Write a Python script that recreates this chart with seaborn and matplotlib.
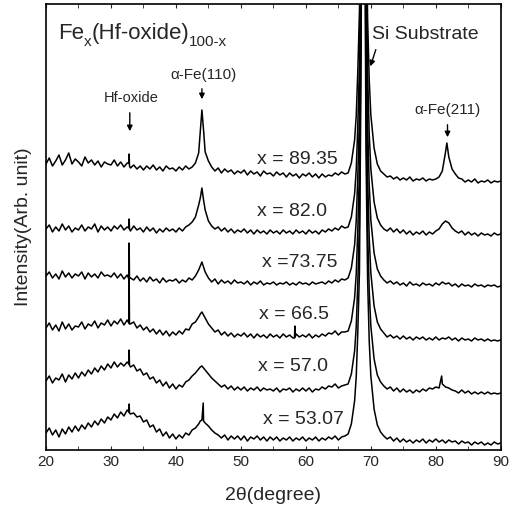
import numpy as np
import pandas as pd
import seaborn as sns
import matplotlib.pyplot as plt

# 2theta grid (0.5 degree steps) shared by all patterns
two_theta = np.linspace(20, 90, 141)

# intensities (arbitrary units, stacked)
s_8935 = [286, 292, 284, 289, 295, 285, 290, 297, 286, 291,
          288, 284, 293, 287, 290, 285, 289, 283, 288, 286,
          285, 290, 284, 288, 283, 287, 282, 285, 281, 284,
          280, 284, 281, 285, 280, 283, 279, 284, 281, 282,
          279, 283, 280, 284, 281, 283, 287, 297, 340, 298,
          289, 283, 279, 282, 277, 281, 278, 280, 276, 279,
          277, 280, 275, 279, 276, 278, 274, 279, 276, 277,
          274, 278, 275, 277, 273, 277, 274, 276, 272, 276,
          274, 277, 273, 276, 272, 276, 273, 275, 274, 277,
          275, 278, 276, 277, 287, 310, 380, 652, 902, 432,
          335, 302, 286, 279, 276, 273, 274, 271, 273, 270,
          272, 270, 273, 269, 271, 270, 272, 269, 271, 270,
          271, 273, 279, 298, 293, 281, 276, 272, 271, 268,
          270, 268, 271, 267, 269, 268, 270, 267, 269, 268,
          269]
s_820 = [221, 225, 218, 223, 219, 226, 220, 224, 218, 222,
         220, 225, 219, 223, 221, 226, 218, 224, 220, 223,
         219, 224, 221, 225, 220, 223, 219, 224, 220, 222,
         218, 223, 219, 222, 217, 221, 218, 222, 219, 221,
         218, 222, 219, 223, 225, 228, 233, 245, 262, 240,
         229, 224, 221, 223, 219, 222, 218, 221, 217, 220,
         218, 221, 217, 220, 216, 220, 217, 219, 216, 220,
         217, 219, 216, 220, 217, 219, 216, 220, 217, 219,
         216, 220, 217, 219, 216, 220, 218, 221, 219, 222,
         220, 224, 222, 223, 233, 256, 326, 598, 848, 378,
         281, 248, 232, 225, 221, 219, 222, 218, 221, 217,
         220, 216, 219, 215, 218, 216, 219, 215, 218, 216,
         219, 221, 226, 229, 227, 222, 219, 217, 219, 215,
         218, 215, 217, 214, 217, 215, 216, 214, 217, 215,
         216]
s_7375 = [174, 178, 172, 176, 171, 179, 173, 177, 172, 176,
          174, 178, 171, 177, 173, 176, 172, 178, 174, 175,
          173, 177, 172, 176, 171, 175, 172, 170, 174, 169,
          172, 168, 173, 169, 171, 167, 172, 168, 170, 169,
          171, 167, 170, 168, 172, 170, 174, 180, 188, 178,
          172, 168, 171, 166, 170, 167, 169, 166, 170, 167,
          168, 166, 169, 165, 168, 166, 169, 165, 167, 166,
          168, 165, 167, 166, 168, 165, 167, 165, 168, 166,
          167, 165, 168, 166, 167, 168, 166, 169, 167, 170,
          168, 171, 170, 172, 182, 205, 275, 547, 797, 327,
          230, 197, 181, 174, 170, 167, 169, 166, 168, 165,
          167, 164, 168, 165, 166, 164, 167, 165, 166, 164,
          167, 165, 168, 166, 167, 164, 166, 163, 166, 164,
          165, 163, 166, 164, 165, 163, 165, 164, 165, 163,
          164]
s_665 = [122, 127, 120, 125, 119, 128, 121, 126, 120, 124,
         123, 128, 121, 126, 124, 129, 122, 127, 125, 130,
         124, 129, 126, 131, 125, 130, 126, 128, 122, 125,
         120, 123, 118, 121, 116, 120, 115, 119, 114, 118,
         115, 119, 116, 121, 120, 126, 128, 133, 138, 132,
         126, 122, 118, 120, 115, 118, 114, 117, 113, 116,
         114, 117, 113, 116, 112, 116, 113, 115, 112, 116,
         113, 115, 112, 116, 113, 115, 112, 116, 113, 115,
         113, 116, 112, 115, 113, 116, 114, 117, 116, 119,
         115, 118, 118, 119, 129, 152, 222, 494, 744, 274,
         177, 144, 128, 121, 117, 113, 115, 112, 114, 111,
         114, 111, 113, 110, 113, 111, 113, 110, 112, 110,
         113, 110, 112, 111, 113, 110, 112, 109, 112, 110,
         111, 109, 112, 110, 111, 109, 111, 109, 110, 109,
         110]
s_570 = [69, 74, 67, 72, 70, 76, 68, 75, 71, 77,
         72, 78, 74, 80, 76, 82, 78, 84, 80, 86,
         82, 88, 83, 87, 84, 88, 83, 85, 79, 81,
         75, 77, 71, 73, 67, 70, 64, 68, 62, 66,
         61, 65, 63, 68, 70, 74, 77, 81, 84, 80,
         76, 72, 69, 66, 63, 65, 61, 64, 60, 63,
         60, 63, 59, 62, 60, 63, 59, 62, 60, 61,
         59, 62, 58, 61, 60, 62, 58, 61, 59, 62,
         59, 62, 58, 61, 60, 63, 61, 64, 63, 66,
         62, 64, 65, 66, 76, 99, 169, 441, 691, 221,
         124, 91, 75, 68, 64, 61, 63, 59, 62, 58,
         61, 58, 60, 57, 60, 58, 61, 59, 62, 61,
         63, 62, 66, 63, 62, 60, 59, 57, 60, 57,
         59, 56, 58, 56, 58, 56, 58, 56, 57, 56,
         57]
s_5307 = [17, 22, 15, 20, 13, 21, 16, 23, 18, 24,
          19, 25, 21, 27, 23, 29, 25, 31, 27, 33,
          30, 36, 32, 38, 34, 40, 36, 37, 33, 34,
          28, 30, 23, 25, 18, 21, 14, 18, 12, 16,
          11, 15, 12, 17, 15, 20, 22, 26, 30, 27,
          24, 20, 17, 15, 12, 15, 10, 14, 11, 14,
          10, 14, 9, 13, 11, 14, 10, 13, 9, 13,
          10, 13, 9, 12, 10, 13, 9, 12, 10, 13,
          9, 12, 10, 13, 9, 12, 10, 13, 11, 14,
          10, 13, 14, 16, 26, 49, 119, 391, 641, 171,
          74, 41, 25, 18, 14, 11, 13, 9, 12, 8,
          11, 8, 10, 7, 10, 8, 11, 7, 10, 8,
          11, 8, 10, 7, 10, 8, 9, 6, 9, 7,
          8, 5, 8, 6, 8, 5, 7, 5, 8, 6,
          7]

# extra points read between grid steps (sharp peaks)
extra_8935 = [(32.75, 287), (32.8, 296), (32.85, 284), (43.75, 318), (44.25, 320),
              (67.75, 334), (68.25, 440), (68.8, 1202), (69.25, 562), (69.75, 370),
              (81.7, 307)]
extra_820 = [(32.75, 222), (32.8, 231), (32.85, 221), (43.75, 252), (44.25, 250),
             (67.75, 280), (68.25, 386), (68.8, 1148), (69.25, 508), (69.75, 316)]
extra_7375 = [(32.75, 171), (32.8, 207), (32.85, 172), (43.75, 184), (44.25, 183),
              (67.75, 229), (68.25, 335), (68.8, 1097), (69.25, 457), (69.75, 265)]
extra_665 = [(32.75, 127), (32.8, 175), (32.85, 126), (43.75, 136), (44.25, 135),
             (58.25, 112), (58.3, 124), (58.35, 113),
             (67.75, 176), (68.25, 282), (68.8, 1044), (69.25, 404), (69.75, 212)]
extra_570 = [(32.75, 86), (32.8, 100), (32.85, 85), (43.75, 83), (44.25, 82),
             (67.75, 123), (68.25, 229), (68.8, 991), (69.25, 351), (69.75, 159),
             (80.9, 74)]
extra_5307 = [(32.75, 38), (32.8, 46), (32.85, 37), (43.75, 29), (44.2, 47), (44.25, 29),
              (67.75, 73), (68.25, 179), (68.8, 941), (69.25, 301), (69.75, 109)]

samples = ["x = 89.35", "x = 82.0", "x =73.75", "x = 66.5", "x = 57.0", "x = 53.07"]
series = [s_8935, s_820, s_7375, s_665, s_570, s_5307]
extras = [extra_8935, extra_820, extra_7375, extra_665, extra_570, extra_5307]
label_pos = [(52.5, 290), (52.5, 238), (53.2, 187), (52.8, 135), (52.6, 83), (53.4, 30)]

frames = []
for name, ys, ex in zip(samples, series, extras):
    d = pd.DataFrame({"two_theta": two_theta, "intensity": ys})
    e = pd.DataFrame(ex, columns=["two_theta", "intensity"])
    d = pd.concat([d, e]).sort_values("two_theta")
    d["sample"] = name
    frames.append(d)
df = pd.concat(frames, ignore_index=True)

sns.set_style("ticks")
plt.rcParams['font.family'] = ['Liberation Sans', 'DejaVu Sans']
plt.rcParams['xtick.direction'] = 'in'
plt.rcParams['ytick.direction'] = 'in'

fig = plt.figure(figsize=(5.11, 5.17), dpi=100)
ax = fig.add_axes([0.09, 0.1296, 0.89, 0.8627])

for name in samples:
    sns.lineplot(ax=ax, data=df[df["sample"] == name], x="two_theta", y="intensity",
                 color="black", linewidth=1.1, estimator=None, sort=True)

ax.set_xlim(20, 90)
ax.set_ylim(0, 446)
ax.set_xticks([20, 30, 40, 50, 60, 70, 80, 90])
ax.set_xticks(np.arange(25, 90, 10), minor=True)
ax.tick_params(axis='x', which='both', top=True, labelsize=11, length=3)
ax.set_yticks([])
for sp in ax.spines.values():
    sp.set_color("black")
    sp.set_linewidth(1.2)

ax.set_xlabel("2θ(degree)", fontsize=14, labelpad=13)
ax.set_ylabel("Intensity(Arb. unit)", fontsize=14, labelpad=10)

for name, (px, py) in zip(samples, label_pos):
    ax.text(px, py, name, fontsize=14, va="center", ha="left")

# title with subscripts, hyphen kept as a hyphen
t1 = ax.text(21.8, 416, "Fe", fontsize=16, va="center")
t2 = ax.annotate("x", xy=(1, 0.1), xycoords=t1, fontsize=11, va="center", ha="left")
t3 = ax.annotate("(Hf-oxide)", xy=(1, 0.5), xycoords=(t2, t1), fontsize=16,
                 va="center", ha="left")
ax.annotate("100-x", xy=(1, 0.1), xycoords=t3, fontsize=11, va="center", ha="left")

ax.text(44.2, 375, "α-Fe(110)", fontsize=11, ha="center", va="center")
ax.annotate("", xy=(44.0, 348), xytext=(44.0, 364),
            arrowprops=dict(arrowstyle="-|>", color="black", lw=1, mutation_scale=8))
ax.text(33.1, 352, "Hf-oxide", fontsize=10.5, ha="center", va="center")
ax.annotate("", xy=(32.9, 316), xytext=(32.9, 340),
            arrowprops=dict(arrowstyle="-|>", color="black", lw=1, mutation_scale=8))
ax.text(70.2, 415, "Si Substrate", fontsize=14, ha="left", va="center")
ax.annotate("", xy=(69.8, 381), xytext=(70.9, 403),
            arrowprops=dict(arrowstyle="-|>", color="black", lw=1, mutation_scale=8))
ax.text(81.8, 340, "α-Fe(211)", fontsize=11, ha="center", va="center")
ax.annotate("", xy=(81.8, 310), xytext=(81.8, 328),
            arrowprops=dict(arrowstyle="-|>", color="black", lw=1, mutation_scale=8))

fig.savefig("out.png", dpi=100)
